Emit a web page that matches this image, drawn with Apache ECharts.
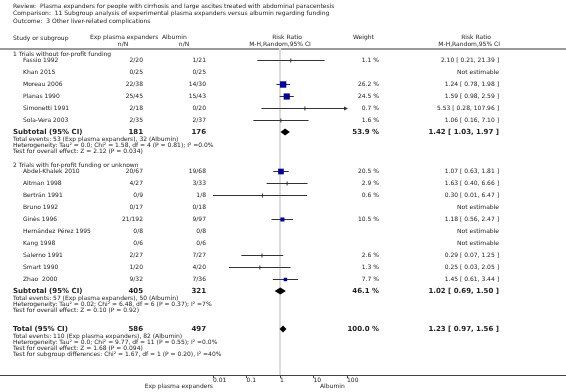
<!DOCTYPE html>
<html>
<head>
<meta charset="utf-8">
<script src="https://cdn.jsdelivr.net/npm/echarts@6/dist/echarts.min.js"></script>
<style>
  html, body { margin: 0; padding: 0; background: #fff; }
  #main { width: 566px; height: 392px; }
</style>
</head>
<body>
<div id="main"></div>
<script>
// titles
const titleLines = [
  'Review:  Plasma expanders for people with cirrhosis and large ascites treated with abdominal paracentesis',
  'Comparison:  11 Subgroup analysis of experimental plasma expanders versus albumin regarding funding',
  'Outcome:  3 Other liver-related complications'
];

// subgroup 1
const g1Name = '1 Trials without for-profit funding';
const g1Study = ['Fassio 1992', 'Khan 2015', 'Moreau 2006', 'Planas 1990', 'Simonetti 1991', 'Sola-Vera 2003'];
const g1ExpEv = [2, 0, 22, 25, 2, 2];
const g1ExpN = [20, 25, 38, 45, 18, 35];
const g1CtlEv = [1, 0, 14, 15, 0, 2];
const g1CtlN = [21, 25, 30, 43, 20, 37];
const g1Weight = [1.1, null, 26.2, 24.5, 0.7, 1.6];
const g1RR = [2.10, null, 1.24, 1.59, 5.53, 1.06];
const g1Lo = [0.21, null, 0.78, 0.98, 0.28, 0.16];
const g1Hi = [21.39, null, 1.98, 2.59, 107.96, 7.10];
const g1Notes = [
  'Total events: 53 (Exp plasma expanders), 32 (Albumin)',
  'Heterogeneity: Tau² = 0.0; Chi² = 1.58, df = 4 (P = 0.81); I² =0.0%',
  'Test for overall effect: Z = 2.12 (P = 0.034)'
];

// subgroup 2
const g2Name = '2 Trials with for-profit funding or unknown';
const g2Study = ['Abdel-Khalek 2010', 'Altman 1998', 'Bertrán 1991', 'Bruno 1992', 'Ginès 1996',
  'Hernández Pérez 1995', 'Kang 1998', 'Salerno 1991', 'Smart 1990', 'Zhao  2000'];
const g2ExpEv = [20, 4, 0, 0, 21, 0, 0, 2, 1, 9];
const g2ExpN = [67, 27, 9, 17, 192, 8, 6, 27, 20, 32];
const g2CtlEv = [19, 3, 1, 0, 9, 0, 0, 7, 4, 7];
const g2CtlN = [68, 33, 8, 18, 97, 8, 6, 27, 20, 36];
const g2Weight = [20.5, 2.9, 0.6, null, 10.5, null, null, 2.6, 1.3, 7.7];
const g2RR = [1.07, 1.63, 0.30, null, 1.18, null, null, 0.29, 0.25, 1.45];
const g2Lo = [0.63, 0.40, 0.01, null, 0.56, null, null, 0.07, 0.03, 0.61];
const g2Hi = [1.81, 6.66, 6.47, null, 2.47, null, null, 1.25, 2.05, 3.44];
const g2Notes = [
  'Total events: 57 (Exp plasma expanders), 50 (Albumin)',
  'Heterogeneity: Tau² = 0.02; Chi² = 6.48, df = 6 (P = 0.37); I² =7%',
  'Test for overall effect: Z = 0.10 (P = 0.92)'
];

// pooled
const totNotes = [
  'Total events: 110 (Exp plasma expanders), 82 (Albumin)',
  'Heterogeneity: Tau² = 0.0; Chi² = 9.77, df = 11 (P = 0.55); I² =0.0%',
  'Test for overall effect: Z = 1.68 (P = 0.094)',
  'Test for subgroup differences: Chi² = 1.67, df = 1 (P = 0.20), I² =40%'
];
const sumLabel = ['Subtotal (95% CI)', 'Subtotal (95% CI)', 'Total (95% CI)'];
const sumWeight = [53.9, 46.1, 100.0];
const sumRR = [1.42, 1.02, 1.23];
const sumLo = [1.03, 0.69, 0.97];
const sumHi = [1.97, 1.50, 1.56];

const xTicks = [0.01, 0.1, 1, 10, 100];

const X_MIN = 0.01, X_MAX = 100;
const FONT = '"DejaVu Sans", Verdana, sans-serif';
const INK = '#222';

const sum = a => a.reduce((s, v) => s + v, 0);
const ci = (r, l, h) => r.toFixed(2) + ' [ ' + l.toFixed(2) + ', ' + h.toFixed(2) + ' ]';

let texts = [];
function txt(text, x, y, align, bold) {
  texts.push({
    type: 'text', x: x, y: y, silent: true,
    style: {
      text: text, align: align || 'left', verticalAlign: 'middle',
      fontSize: bold ? 7 : 6, fontWeight: bold ? 'bold' : 'normal',
      fontFamily: FONT, fill: INK
    }
  });
}

// column anchors
const colName = 23, colHead = 13, colExp = 143, colCtl = 206, colW = 379, colCI = 499;

titleLines.forEach((t, i) => txt(t, 13, 6 + i * 7.5));
txt('Study or subgroup', 13, 38);
txt('Exp plasma expanders', 90, 37.5);
txt('Albumin', 162, 37.5);
txt('n/N', 123, 44.5, 'center');
txt('n/N', 184, 44.5, 'center');
txt('Risk Ratio', 287, 37.5, 'center');
txt('M-H,Random,95% CI', 280, 44.5, 'center');
txt('Weight', 353, 37.5);
txt('Risk Ratio', 476, 37.5, 'center');
txt('M-H,Random,95% CI', 500, 44.5, 'right');

let studyData = [];
let diamondData = [];

function drawGroup(k, name, study, eEv, eN, cEv, cN, w, rr, lo, hi, notes, y0) {
  let y = y0;
  txt(name, colHead, y);
  y += 6;
  study.forEach((s, i) => {
    txt(s, colName, y);
    txt(eEv[i] + '/' + eN[i], colExp, y, 'right');
    txt(cEv[i] + '/' + cN[i], colCtl, y, 'right');
    if (rr[i] == null) {
      txt('Not estimable', colCI, y, 'right');
    } else {
      txt(w[i].toFixed(1) + ' %', colW, y, 'right');
      txt(ci(rr[i], lo[i], hi[i]), colCI, y, 'right');
      studyData.push([rr[i], lo[i], hi[i], w[i], y]);
    }
    y += 12;
  });
  drawSummary(k, sum(eN), sum(cN), notes, y);
  return y + 6 * notes.length;
}

function drawSummary(k, nE, nC, notes, y) {
  txt(sumLabel[k], colHead, y, 'left', true);
  txt(String(nE), colExp, y, 'right', true);
  txt(String(nC), colCtl, y, 'right', true);
  txt(sumWeight[k].toFixed(1) + ' %', colW, y, 'right', true);
  txt(ci(sumRR[k], sumLo[k], sumHi[k]), colCI, y, 'right', true);
  diamondData.push([sumRR[k], sumLo[k], sumHi[k], y]);
  notes.forEach((n, i) => txt(n, colHead, y + 7 + i * 6));
}

let yEnd = drawGroup(0, g1Name, g1Study, g1ExpEv, g1ExpN, g1CtlEv, g1CtlN, g1Weight, g1RR, g1Lo, g1Hi, g1Notes, 54);
yEnd = drawGroup(1, g2Name, g2Study, g2ExpEv, g2ExpN, g2CtlEv, g2CtlN, g2Weight, g2RR, g2Lo, g2Hi, g2Notes, yEnd + 15);
drawSummary(2, sum(g1ExpN) + sum(g2ExpN), sum(g1CtlN) + sum(g2CtlN), totNotes, yEnd + 20);

txt('Exp plasma expanders', 213, 386.5, 'right');
txt('Albumin', 320, 386.5, 'left');

const myChart = echarts.init(document.getElementById('main'));
const option = {
  animation: false,
  grid: { left: 213, right: 219, top: 48, bottom: 17 },
  xAxis: {
    type: 'log', logBase: 10, min: X_MIN, max: X_MAX,
    axisLine: { lineStyle: { color: '#444', width: 1 } },
    axisTick: { length: 3, lineStyle: { color: '#444' } },
    axisLabel: {
      fontSize: 6, fontFamily: FONT, color: INK, align: 'left', margin: 2,
      customValues: xTicks,
      formatter: v => String(+(+v).toPrecision(2))
    },
    splitLine: { show: false }
  },
  yAxis: { type: 'value', min: 48, max: 375, inverse: true, show: false },
  graphic: [
    { type: 'line', silent: true, shape: { x1: 0, y1: 49, x2: 566, y2: 49 }, style: { stroke: '#9a9a9a', lineWidth: 2 } },
    { type: 'line', silent: true, shape: { x1: 0, y1: 375.5, x2: 566, y2: 375.5 }, style: { stroke: '#444', lineWidth: 1 } }
  ].concat(texts),
  series: [
    {
      // line of no effect
      type: 'custom', z: 1, silent: true,
      data: [[1]],
      encode: { x: 0 },
      renderItem(params, api) {
        const cs = params.coordSys;
        const x = api.coord([api.value(0), 100])[0];
        return { type: 'line', shape: { x1: x, y1: cs.y, x2: x, y2: cs.y + cs.height }, style: { stroke: '#dcdcdc', lineWidth: 2 } };
      }
    },
    {
      type: 'custom', z: 3, silent: true,
      data: studyData,
      encode: { x: [0, 1, 2], y: 4 },
      renderItem(params, api) {
        const yv = api.value(4);
        const hiV = api.value(2);
        const est = api.coord([api.value(0), yv]);
        const lo = api.coord([Math.max(api.value(1), X_MIN), yv]);
        const hi = api.coord([Math.min(hiV, X_MAX), yv]);
        const yy = Math.round(est[1]) + 0.5;
        const children = [{ type: 'line', shape: { x1: lo[0], y1: yy, x2: hi[0], y2: yy }, style: { stroke: '#333', lineWidth: 1 } }];
        if (hiV > X_MAX) {
          children.push({ type: 'polygon', shape: { points: [[hi[0] + 1, yy], [hi[0] - 3, yy - 2], [hi[0] - 3, yy + 2]] }, style: { fill: '#333' } });
        }
        const w = api.value(3);
        const s = Math.sqrt(w) * 1.25;
        let sw, sh, fill;
        if (w < 4) { sw = 1; sh = 4; fill = '#333'; } else { sw = s; sh = s; fill = '#0000a0'; }
        children.push({ type: 'rect', shape: { x: est[0] - sw / 2, y: yy - sh / 2, width: sw, height: sh }, style: { fill: fill } });
        return { type: 'group', children: children };
      }
    },
    {
      type: 'custom', z: 3, silent: true,
      data: diamondData,
      encode: { x: [0, 1, 2], y: 3 },
      renderItem(params, api) {
        const yv = api.value(3);
        const c = api.coord([api.value(0), yv]);
        const l = api.coord([api.value(1), yv]);
        const h = api.coord([api.value(2), yv]);
        return {
          type: 'polygon',
          shape: { points: [[l[0], c[1]], [c[0], c[1] - 3.5], [h[0], c[1]], [c[0], c[1] + 3.5]] },
          style: { fill: '#000' }
        };
      }
    }
  ]
};
myChart.setOption(option);
</script>
</body>
</html>
